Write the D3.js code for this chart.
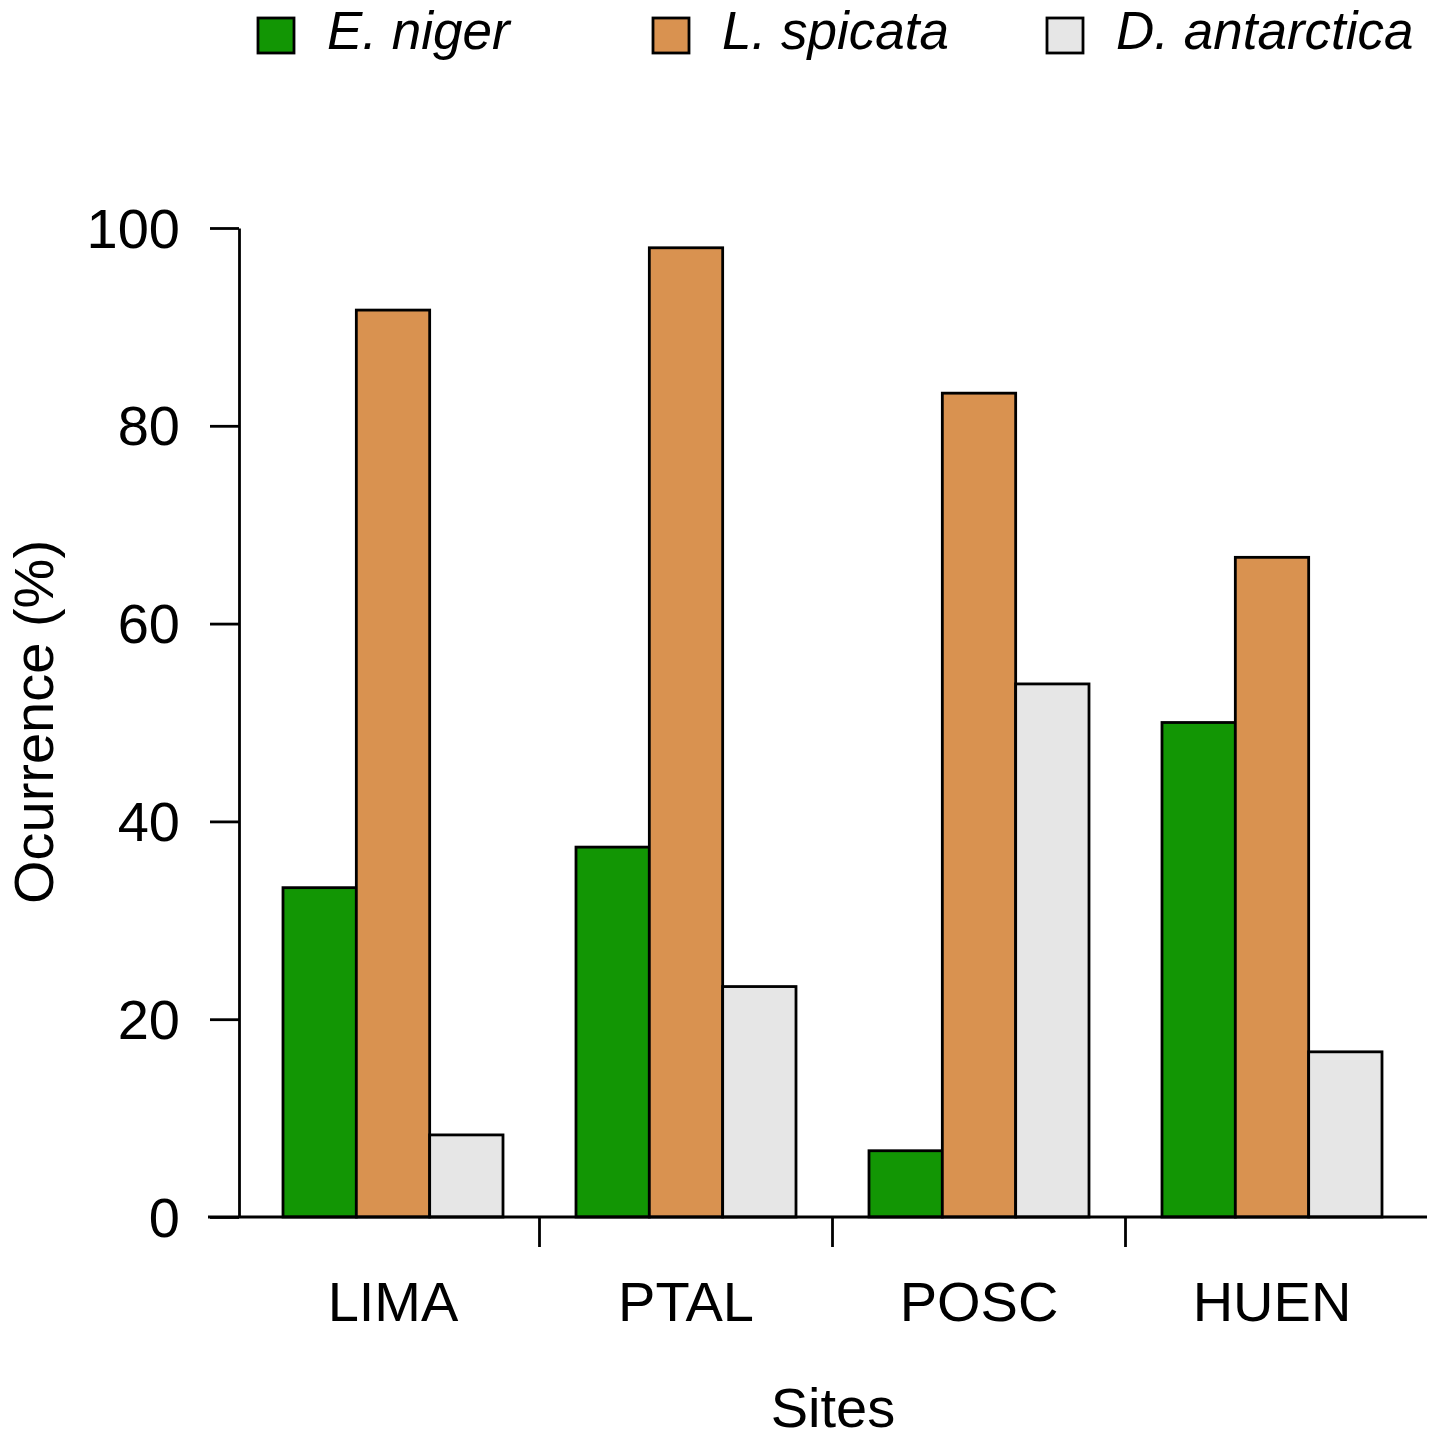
<!DOCTYPE html>
<html>
<head>
<meta charset="utf-8">
<script src="https://cdn.jsdelivr.net/npm/d3@7"></script>
<style>
  html, body { margin: 0; padding: 0; background: #fff; }
  svg { display: block; font-family: "Liberation Sans", Arial, sans-serif; }
</style>
</head>
<body>
<svg id="chart" width="1440" height="1441"></svg>
<script>
const sites = ["LIMA", "PTAL", "POSC", "HUEN"];
const species = ["E. niger", "L. spicata", "D. antarctica"];
const speciesColors = ["#129604", "#D99250", "#E6E6E6"];

// occurrence (%) per site, one array per species
const eNiger = [33.3, 37.4, 6.7, 50.0];
const lSpicata = [91.7, 98.0, 83.3, 66.7];
const dAntarctica = [8.3, 23.3, 53.9, 16.7];

const yTicks = [0, 20, 40, 60, 80, 100];

const seriesValues = [eNiger, lSpicata, dAntarctica];
const tableRows = sites.map((site, i) => ({
  site,
  values: species.map((sp, j) => ({ species: sp, color: speciesColors[j], value: seriesValues[j][i] }))
}));

const svg = d3.select("#chart");

const x0 = d3.scaleBand()
  .domain(sites)
  .range([246.5, 1418.5])
  .paddingInner(0)
  .paddingOuter(0);

const x1 = d3.scaleBand()
  .domain(species)
  .range([36.5, x0.bandwidth() - 36.5]);

const y = d3.scaleLinear()
  .domain([0, 100])
  .range([1217, 228]);

// bars
const groups = svg.append("g")
  .selectAll("g")
  .data(tableRows)
  .join("g")
  .attr("transform", d => `translate(${x0(d.site)},0)`);

groups.selectAll("rect")
  .data(d => d.values)
  .join("rect")
  .attr("x", d => x1(d.species))
  .attr("y", d => y(d.value))
  .attr("width", x1.bandwidth())
  .attr("height", d => y(0) - y(d.value))
  .attr("fill", d => d.color)
  .attr("stroke", "#000")
  .attr("stroke-width", 2.8);

// y axis
const yAxis = svg.append("g")
  .attr("transform", "translate(239,0)")
  .call(d3.axisLeft(y).tickValues(yTicks).tickSize(29).tickPadding(30).tickSizeOuter(0));

yAxis.select(".domain").attr("stroke-width", 2.8);
yAxis.selectAll(".tick line").attr("stroke-width", 2.8);
yAxis.selectAll(".tick text")
  .attr("font-size", 56)
  .attr("font-family", "Liberation Sans, Arial, sans-serif")
  .attr("fill", "#000")
  .attr("dy", "0.34em");

// x baseline and separators between sites
svg.append("line")
  .attr("x1", 208).attr("x2", 1427)
  .attr("y1", y(0)).attr("y2", y(0))
  .attr("stroke", "#000").attr("stroke-width", 2.8);

svg.append("g")
  .selectAll("line")
  .data(sites.slice(1))
  .join("line")
  .attr("x1", d => x0(d)).attr("x2", d => x0(d))
  .attr("y1", y(0)).attr("y2", y(0) + 30)
  .attr("stroke", "#000").attr("stroke-width", 2.8);

svg.append("g")
  .selectAll("text")
  .data(sites)
  .join("text")
  .attr("x", d => x0(d) + x0.bandwidth() / 2)
  .attr("y", 1321)
  .attr("text-anchor", "middle")
  .attr("font-size", 56)
  .text(d => d);

// axis titles
svg.append("text")
  .attr("x", 833)
  .attr("y", 1427)
  .attr("text-anchor", "middle")
  .attr("font-size", 56)
  .text("Sites");

svg.append("text")
  .attr("transform", "translate(53,722) rotate(-90)")
  .attr("text-anchor", "middle")
  .attr("font-size", 56)
  .text("Ocurrence (%)");

// legend
const legendX = [258, 653, 1047];
const legend = svg.append("g")
  .selectAll("g")
  .data(species)
  .join("g")
  .attr("transform", (d, i) => `translate(${legendX[i]},18)`);

legend.append("rect")
  .attr("width", 36)
  .attr("height", 35)
  .attr("fill", (d, i) => speciesColors[i])
  .attr("stroke", "#000")
  .attr("stroke-width", 2.8);

legend.append("text")
  .attr("x", 69)
  .attr("y", 31)
  .attr("font-size", 53)
  .attr("font-style", "italic")
  .text(d => d);
</script>
</body>
</html>
